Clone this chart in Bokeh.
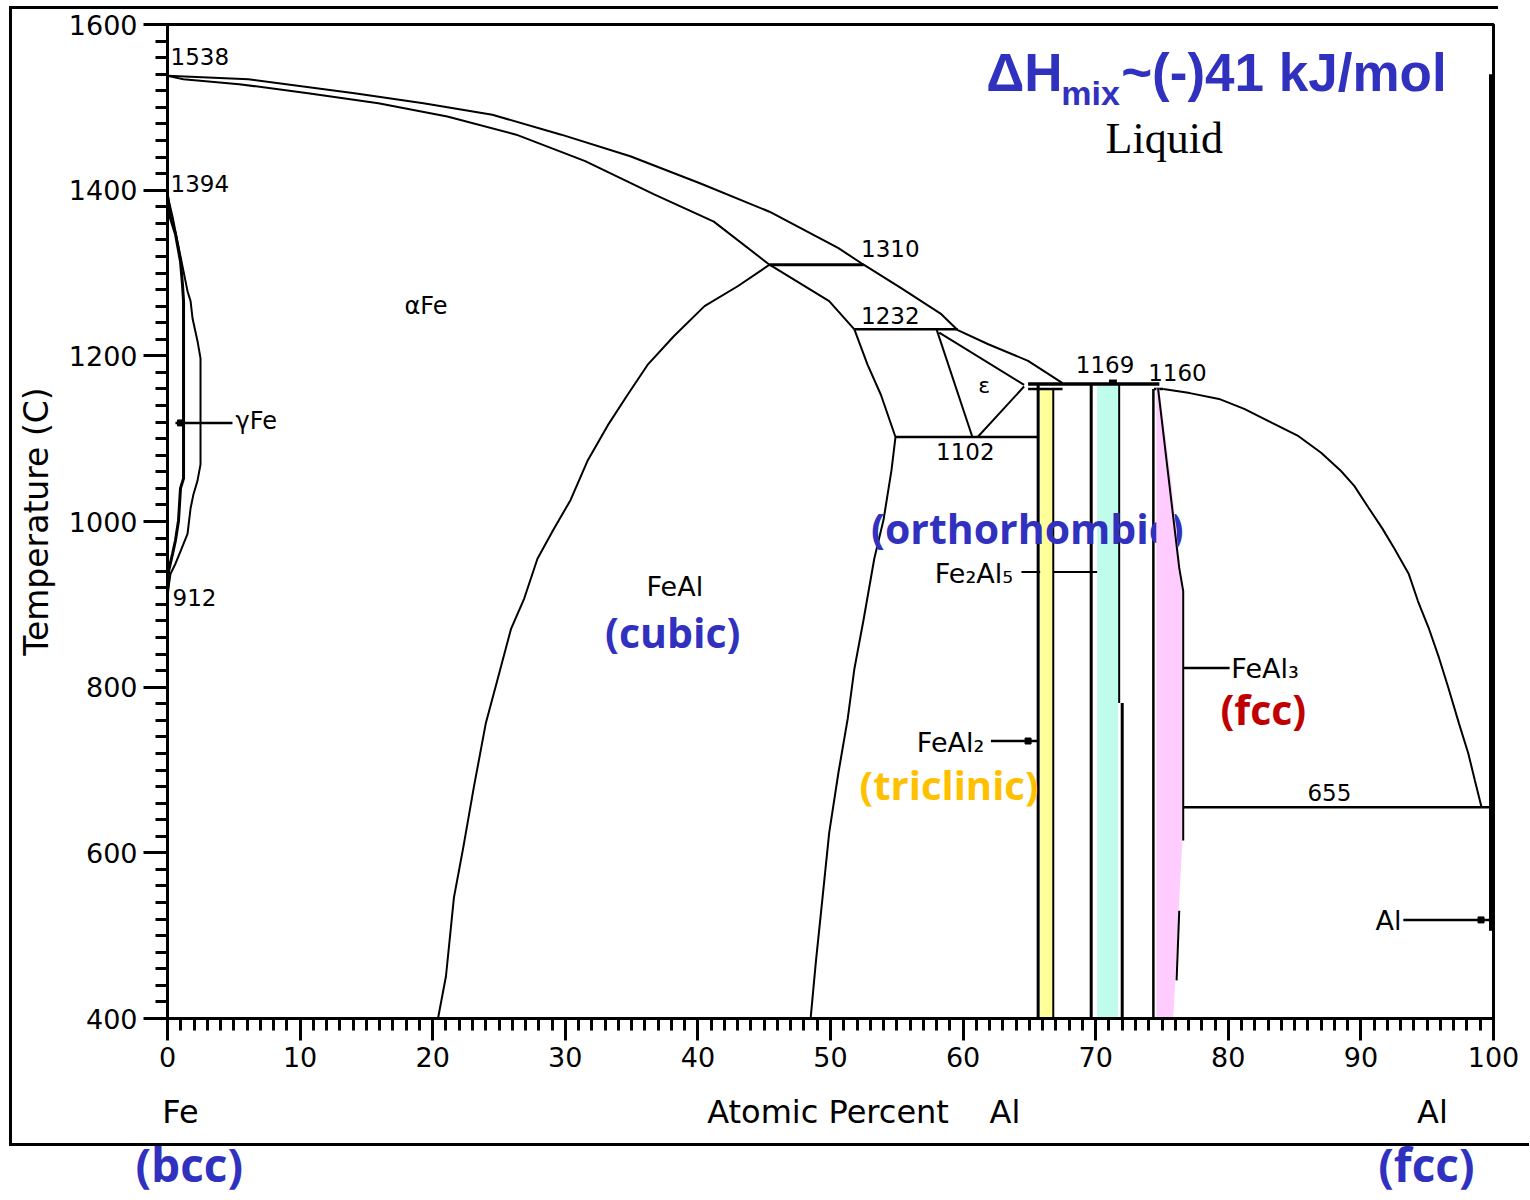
from bokeh.plotting import figure
from bokeh.models import FixedTicker, Range1d, Title
from bokeh.core.properties import value
from bokeh.embed import file_html
from bokeh.resources import INLINE

# ---------------- data: (at.% Al, temperature in C) ----------------
liq_fe_x = [0, 6.1, 14.1, 19.3, 24.5, 29.7, 34.9, 40.2, 45.4, 50.6, 52.5, 55.3, 58.3, 59.6, 61.9, 64.9, 67.5]
liq_fe_t = [1538, 1534, 1517, 1505, 1491, 1467, 1441, 1408, 1374, 1330, 1310, 1282, 1251, 1231, 1214, 1194, 1167]

sol_fe_x = [0, 1.2, 5.4, 10.6, 15.9, 21.1, 26.3, 31.5, 36.7, 41.2, 45.4, 49.9, 51.8]
sol_fe_t = [1538, 1534, 1528, 1517, 1505, 1489, 1467, 1435, 1395, 1362, 1310, 1266, 1232]

b2_x = [20.4, 21.0, 21.6, 22.3, 23.1, 24.0, 24.9, 25.9, 26.9, 27.9, 29.1, 30.4, 31.7, 33.2, 34.7, 36.2, 38.2, 40.5, 43.0, 45.4]
b2_t = [400, 451, 546, 606, 679, 756, 810, 870, 907, 955, 990, 1026, 1074, 1116, 1153, 1189, 1224, 1260, 1284, 1310]

feal_r_x = [51.8, 52.8, 53.8, 54.9, 54.6, 54.0, 53.3, 52.5, 51.8, 51.3, 50.6, 49.9, 49.4, 48.9, 48.5]
feal_r_t = [1232, 1189, 1153, 1102, 1062, 1002, 955, 882, 822, 762, 697, 624, 546, 469, 400]

gam_in_x = [0, 0.23, 0.6, 0.98, 1.13, 1.21, 1.21, 1.21, 0.98, 0.83, 0.6, 0.38, 0.08, 0]
gam_in_t = [1394, 1366, 1347, 1314, 1286, 1266, 1145, 1052, 1040, 1001, 977, 961, 940, 912]
gam_out_x = [0, 0.38, 0.75, 1.21, 1.51, 1.74, 1.89, 2.26, 2.49, 2.49, 2.26, 1.96, 1.74, 1.51, 0.98, 0.6, 0.23, 0]
gam_out_t = [1394, 1368, 1338, 1302, 1278, 1266, 1245, 1218, 1197, 1069, 1049, 1033, 1016, 985, 964, 949, 937, 912]

eps_l_x = [58.0, 60.7]
eps_l_t = [1232, 1102]
eps_r_x = [61.1, 64.6]
eps_r_t = [1102, 1163]
eps_top_x = [58.2, 64.6]
eps_top_t = [1228, 1165]

h1310_x = [45.4, 52.5]
h1310_t = [1310, 1310]
h1232_x = [51.8, 59.6]
h1232_t = [1232, 1232]
h1102_x = [54.9, 65.7]
h1102_t = [1102, 1102]
h1169_x = [64.9, 74.8]
h1169_t = [1166, 1166]
h1160a_x = [64.9, 67.5]
h1160a_t = [1160, 1160]
h1160b_x = [74.4, 75.1]
h1160b_t = [1160, 1160]
bump_x = [71.0, 71.6]
bump_t = [1169, 1169]
h655_x = [76.6, 100]
h655_t = [655, 655]

feal2_l_x = [65.66, 65.66]
feal2_l_t = [1166, 400]
feal2_r_x = [66.8, 66.8]
feal2_r_t = [1160, 400]
fe2al5_l_x = [69.66, 69.66]
fe2al5_l_t = [1166, 400]
fe2al5_r1_x = [71.77, 71.77]
fe2al5_r1_t = [1166, 781]
fe2al5_r2_x = [72.0, 72.0]
fe2al5_r2_t = [781, 400]
feal3_l_x = [74.35, 74.35]
feal3_l_t = [1160, 400]
feal3_r1_x = [74.7, 76.3, 76.6, 76.6]
feal3_r1_t = [1161, 944, 916, 615]
feal3_r2_x = [76.3, 76.1]
feal3_r2_t = [530, 446]

yellow_x = [65.81, 66.79]
yellow_t = [400, 1160]
cyan_x = [70.11, 71.70]
cyan_t = [400, 1166]
pink_x = [74.57, 74.79, 75.70, 76.53, 76.53, 75.85, 74.57]
pink_t = [1161, 1161, 1049, 916, 615, 400, 400]

liq_al_x = [75.1, 77.1, 79.3, 81.2, 83.3, 85.3, 87.0, 88.5, 89.5, 90.6, 91.6, 92.5, 93.6, 94.3, 95.1, 95.9, 96.6, 97.4, 98.1, 98.6, 99.1]
liq_al_t = [1160, 1155, 1148, 1136, 1119, 1103, 1083, 1061, 1043, 1016, 992, 968, 937, 904, 872, 835, 799, 756, 720, 687, 655]

al_sol_x = [99.85, 99.85]
al_sol_t = [1540, 506]

# pointer lines of the phase labels
ptr_gfe_x = [0.6, 4.9]
ptr_gfe_t = [1119, 1119]
ptr_fe2al5_x = [64.4, 70.2]
ptr_fe2al5_t = [939, 939]
ptr_feal2_x = [62.1, 65.7]
ptr_feal2_t = [735, 735]
ptr_feal3_x = [76.6, 80.1]
ptr_feal3_t = [823, 823]
ptr_al_x = [93.2, 99.9]
ptr_al_t = [519, 519]
dot_x = [0.98, 64.9, 99.06]
dot_t = [1119, 735, 519]

x_major = list(range(0, 101, 10))
x_minor = list(range(0, 101, 1))
y_major = list(range(400, 1601, 200))
y_minor = list(range(400, 1601, 20))

BLUE = "#3131C0"
PIX = "DejaVu Sans"
NB = "\u00a0"

# outer frame of the original picture (page styling, not data)
frame_css = {
    "background-image": "linear-gradient(#000,#000), linear-gradient(#000,#000), linear-gradient(#000,#000)",
    "background-size": "3px 1140px, 1489px 3px, 1520px 3px",
    "background-position": "9px 6px, 9px 6px, 9px 1143px",
    "background-repeat": "no-repeat",
}

# ---------------- figure ----------------
p = figure(width=1530, height=1200, x_range=Range1d(0, 100), y_range=Range1d(400, 1600),
           output_backend="svg", toolbar_location=None,
           min_border_left=167, min_border_right=37, min_border_top=24, min_border_bottom=182,
           styles=frame_css)
p.grid.visible = False
p.background_fill_color = "white"
p.border_fill_alpha = 0
p.outline_line_color = "black"
p.outline_line_width = 3
p.outline_line_alpha = 1.0

for ax in (p.xaxis[0], p.yaxis[0]):
    ax.axis_line_width = 3
    ax.axis_line_color = "black"
    ax.major_tick_line_width = 3
    ax.minor_tick_line_width = 3
    ax.major_tick_line_color = "black"
    ax.minor_tick_line_color = "black"
    ax.major_tick_in = 0
    ax.minor_tick_in = 0
    ax.major_label_text_font = PIX
    ax.major_label_text_color = "black"
    ax.major_label_text_font_size = "27px"
    ax.major_label_standoff = 6

p.xaxis.ticker = FixedTicker(ticks=x_major, minor_ticks=x_minor)
p.yaxis.ticker = FixedTicker(ticks=y_major, minor_ticks=y_minor)
p.xaxis.major_tick_out = 22
p.xaxis.minor_tick_out = 12
p.yaxis.major_tick_out = 24
p.yaxis.minor_tick_out = 12
p.yaxis.axis_label = "Temperature (C)"
p.yaxis.axis_label_text_font = PIX
p.yaxis.axis_label_text_font_size = "33px"
p.yaxis.axis_label_text_font_style = "normal"
p.yaxis.axis_label_text_color = "black"
p.yaxis.axis_label_standoff = 10

p.xaxis.axis_label = "Fe" + NB * 50 + "Atomic Percent" + NB * 4 + "Al" + NB * 39 + "Al" + NB * 5
p.xaxis.axis_label_text_font = PIX
p.xaxis.axis_label_text_font_size = "32px"
p.xaxis.axis_label_text_font_style = "normal"
p.xaxis.axis_label_text_color = "black"
p.xaxis.axis_label_standoff = 23

p.add_layout(Title(text="(bcc)" + NB * 95 + "(fcc)", align="left", offset=-32, standoff=-6,
                   text_font="Open Sans", text_font_size="46px", text_font_style="bold",
                   text_color=BLUE), "below")


def ln(xs, ts, w=2):
    p.line(xs, ts, line_color="black", line_width=w)


def txt(x, t, s, size="23px", align="left", base="middle", font=PIX, color="black", style="normal"):
    p.text(x=[x], y=[t], text=[s], text_font=value(font), text_font_size=value(size),
           text_align=align, text_baseline=base, text_color=color, text_font_style=style)


# pointer line that lies under the yellow band
ln(ptr_fe2al5_x, ptr_fe2al5_t, 2)

# coloured single-phase bands
p.quad(left=[yellow_x[0]], right=[yellow_x[1]], bottom=[yellow_t[0]], top=[yellow_t[1]],
       fill_color="#FFFF99", line_color=None)
p.quad(left=[cyan_x[0]], right=[cyan_x[1]], bottom=[cyan_t[0]], top=[cyan_t[1]],
       fill_color="#BFFCEB", line_color=None)

# phase boundaries
ln(liq_fe_x, liq_fe_t)
ln(sol_fe_x, sol_fe_t)
ln(b2_x, b2_t)
ln(feal_r_x, feal_r_t)
ln(gam_in_x, gam_in_t, 3)
ln(gam_out_x, gam_out_t)
ln(eps_l_x, eps_l_t)
ln(eps_r_x, eps_r_t)
ln(eps_top_x, eps_top_t)
ln(h1310_x, h1310_t, 3)
ln(h1232_x, h1232_t, 2.5)
ln(h1102_x, h1102_t, 2.5)
ln(h1169_x, h1169_t, 3.5)
ln(h1160a_x, h1160a_t, 2.5)
ln(h1160b_x, h1160b_t, 2.5)
ln(bump_x, bump_t, 4)
ln(h655_x, h655_t, 2.5)
ln(feal2_l_x, feal2_l_t, 3)
ln(feal2_r_x, feal2_r_t, 2)
ln(fe2al5_l_x, fe2al5_l_t, 3)
ln(fe2al5_r1_x, fe2al5_r1_t, 2)
ln(fe2al5_r2_x, fe2al5_r2_t, 3)
ln(feal3_l_x, feal3_l_t, 2.5)
ln(liq_al_x, liq_al_t)
ln(al_sol_x, al_sol_t, 5)
ln(ptr_gfe_x, ptr_gfe_t, 2.5)
ln(ptr_feal2_x, ptr_feal2_t, 2.5)
ln(ptr_feal3_x, ptr_feal3_t, 2.5)
ln(ptr_al_x, ptr_al_t, 2.5)
p.scatter(dot_x, dot_t, marker="square", size=6, fill_color="black", line_color="black")

# crystal-structure label partly hidden by the pink band
txt(53.06, 992, "(orthorhombic)", size="41px", font="Open Sans", color=BLUE, style="bold")

p.patch(pink_x, pink_t, fill_color="#FFCCFF", line_color=None)
ln(feal3_r1_x, feal3_r1_t, 2)
ln(feal3_r2_x, feal3_r2_t, 2)

# invariant temperatures and phase names
txt(0.23, 1561, "1538")
txt(0.23, 1408, "1394")
txt(0.38, 908, "912")
txt(19.5, 1260, "\u03b1Fe", size="24px", align="center")
txt(5.13, 1121, "\u03b3Fe", size="24px")
txt(52.3, 1329, "1310")
txt(52.3, 1249, "1232")
txt(61.6, 1164, "\u03b5", size="22px", align="center")
txt(57.96, 1084, "1102")
txt(68.5, 1189, "1169")
txt(73.96, 1180, "1160")
txt(38.26, 922, "FeAl", size="27px", align="center")
txt(38.1, 866, "(cubic)", size="41px", align="center", font="Open Sans", color=BLUE, style="bold")
txt(63.77, 937, "Fe\u2082Al\u2085", size="27px", align="right")
txt(61.6, 733, "FeAl\u2082", size="27px", align="right")
txt(58.94, 683, "(triclinic)", size="40px", align="center", font="Open Sans", color="#FFC000", style="bold")
txt(80.23, 822, "FeAl\u2083", size="27px")
txt(82.64, 774, "(fcc)", size="41px", align="center", font="Open Sans", color="#C00000", style="bold")
txt(87.62, 673, "655", align="center")
txt(93.06, 518, "Al", size="27px", align="right")
txt(75.17, 1462, "Liquid", size="44px", align="center", font="Liberation Serif")
txt(61.74, 1542, "\u0394H", size="53px", font="Liberation Sans", color=BLUE, style="bold")
txt(67.4, 1517, "mix", size="34px", font="Liberation Sans", color=BLUE, style="bold")
txt(71.92, 1542, "~(-)41 kJ/mol", size="53px", font="Liberation Sans", color=BLUE, style="bold")

open("out.html", "w").write(file_html(p, INLINE))
